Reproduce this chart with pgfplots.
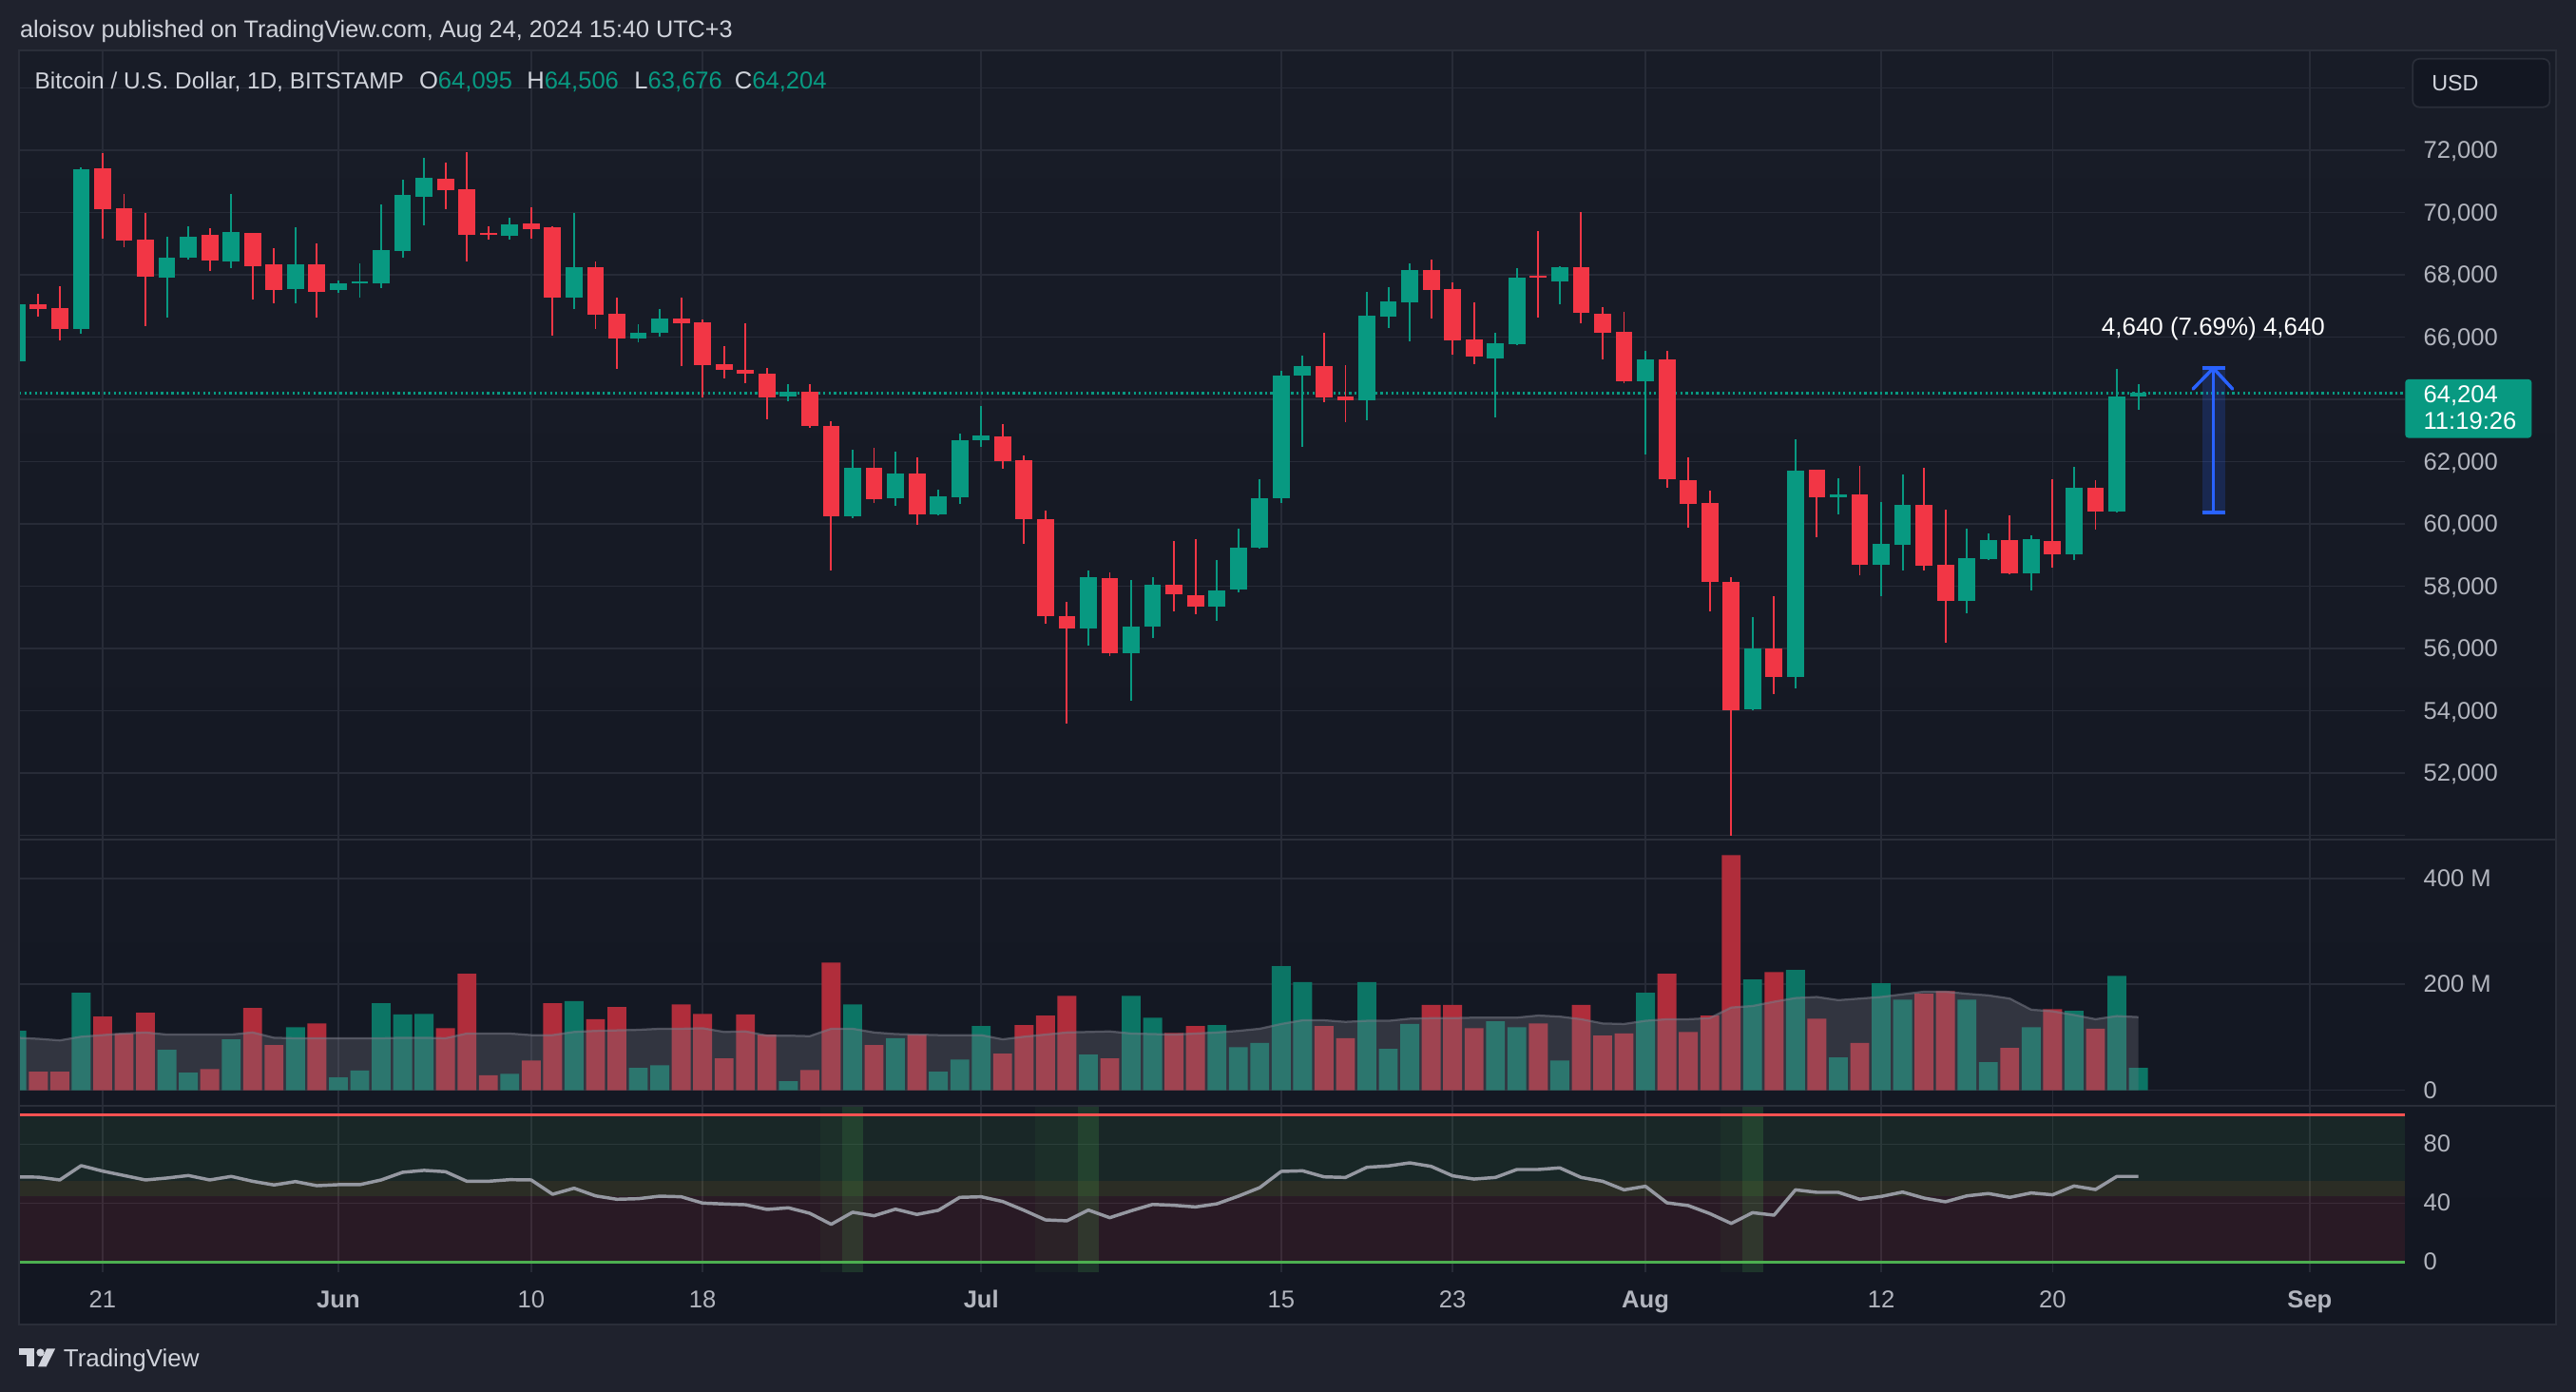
\documentclass[border=0pt]{standalone}
\usepackage{fontspec}
\setmainfont{Liberation Sans}
\usepackage{pgfplots}
\pgfplotsset{compat=1.18}
\usepackage{pgfplotstable}

\definecolor{outerbg}{HTML}{1F222D}
\definecolor{bgtop}{HTML}{181C27}
\definecolor{bgbot}{HTML}{131722}
\definecolor{gridc}{HTML}{272B37}
\definecolor{framec}{HTML}{2A2E39}
\definecolor{labelc}{HTML}{B2B5BE}
\definecolor{textc}{HTML}{D1D4DC}
\definecolor{cup}{HTML}{089981}
\definecolor{cdown}{HTML}{F23645}
\definecolor{vup}{HTML}{0C7565}
\definecolor{vdown}{HTML}{B02D3B}
\definecolor{magray}{RGB}{120,122,134}
\definecolor{rsigray}{HTML}{9598A1}
\definecolor{tvblue}{HTML}{2962FF}
\definecolor{rsigreen}{HTML}{4CAF50}
\definecolor{rsired}{HTML}{FF5252}
\definecolor{rsiyellow}{HTML}{FFEB3B}

\newcommand{\tvfont}{\fontsize{14.8}{17}\selectfont}

% day index: Jun 1 = 0
\pgfplotstableread{
d o h l c v
-15 65220 67100 65200 67050 112
-12 66250 71460 66100 71380 184
-8 67900 69240 66640 68550 76
-7 68540 69550 68500 69240 33
-5 68440 70600 68230 69370 96
-2 67560 69530 67100 68340 119
0 67510 67820 67410 67720 24
1 67735 68360 67280 67785 37
2 67720 70250 67590 68800 164
3 68770 71050 68570 70560 143
4 70510 71760 69580 71120 144
8 69260 69830 69140 69610 31
11 67280 69990 66920 68240 168
14 65970 66410 65840 66150 42
15 66150 66900 66020 66610 47
21 64110 64500 63930 64250 17
24 60240 62380 60200 61800 162
26 60820 62330 60580 61620 98
28 60300 61090 60280 60890 35
29 60870 62920 60640 62690 58
30 62690 63800 62490 62850 121
35 56640 58520 56090 58280 67
37 55840 58210 54320 56720 178
38 56710 58310 56330 58060 137
41 57340 58860 56890 57880 123
42 57910 59840 57820 59250 81
43 59250 61450 59200 60840 89
44 60820 64930 60690 64760 234
45 64760 65420 62470 65070 204
48 63960 67460 63320 66690 204
49 66670 67610 66300 67150 78
50 67130 68370 65860 68160 125
54 65330 66130 63440 65810 130
55 65790 68210 65730 67920 119
57 67800 68280 67070 68240 56
61 64600 65560 62250 65280 184
66 54040 57020 54010 56000 209
68 55090 62720 54710 61720 227
70 60860 61480 60300 60950 62
72 58700 60710 57690 59370 202
73 59340 61590 58500 60630 171
76 57540 59860 57150 58910 171
77 58880 59700 58850 59480 53
79 58420 59650 57880 59520 119
81 59030 61840 58830 61170 150
83 60400 64970 60370 64090 216
84 64095 64506 63676 64204 42
}\updata

\pgfplotstableread{
d o h l c v
-14 67050 67380 66670 66920 35
-13 66935 67640 65900 66250 35
-11 71410 71920 69170 70120 139
-10 70140 70610 68880 69090 107
-9 69120 69990 66360 67930 146
-6 69290 69500 68140 68470 40
-4 69340 69360 67200 68290 155
-3 68340 68860 67100 67520 85
-1 68340 69010 66640 67460 126
5 71090 71610 70100 70730 117
6 70740 71940 68440 69300 220
7 69350 69550 69140 69300 28
9 69650 70170 69160 69480 56
10 69520 69550 66040 67280 164
12 68240 68420 66250 66710 134
13 66750 67280 64970 65970 157
16 66610 67260 65070 66460 162
17 66480 66560 64060 65120 144
18 65140 65710 64680 64940 60
19 64960 66450 64520 64840 143
20 64830 65020 63370 64080 105
22 64240 64500 63100 63140 38
23 63140 63290 58500 60240 241
25 61800 62460 60680 60790 85
27 61620 62150 59960 60300 105
31 62820 63210 61770 62030 69
32 62050 62210 59350 60150 123
33 60170 60430 56790 57030 141
34 57050 57510 53590 56640 178
36 58280 58440 55760 55840 60
39 58060 59470 57200 57740 108
40 57720 59520 57100 57340 121
46 65070 66130 63900 64080 121
47 64090 65100 63260 63980 98
51 68160 68490 66590 67520 161
52 67540 67750 65430 65910 161
53 65920 67110 65120 65370 117
56 67960 69400 66640 67900 126
58 68240 70010 66460 66770 161
59 66760 66970 65300 66150 103
60 66170 66800 64520 64600 107
62 65280 65560 61180 61430 220
63 61410 62150 59890 60660 110
64 60680 61070 57200 58130 141
65 58140 58310 49980 54010 444
67 56000 57690 54530 55090 223
69 61750 61760 59580 60860 135
71 60950 61870 58360 58700 89
74 60630 61800 58500 58670 182
75 58700 60450 56180 57540 187
78 59480 60280 58400 58420 80
80 59470 61450 58590 59030 153
82 61170 61410 59810 60400 116
}\downdata

\pgfplotstableread{
d ma
-15 99
-14 97
-13 94
-12 101
-11 104
-10 107
-9 109
-8 105
-7 105
-6 105
-5 105
-4 109
-3 99
-2 98
-1 98
0 98
1 98
2 98
3 99
4 99
5 98
6 107
7 107
8 107
9 104
10 104
11 110
12 112
13 113
14 114
15 116
16 116
17 117
18 110
19 111
20 103
21 103
22 102
23 116
24 116
25 109
26 106
27 105
28 104
29 104
30 104
31 96
32 101
33 105
34 109
35 110
36 111
37 107
38 106
39 105
40 107
41 109
42 112
43 116
44 125
45 132
46 132
47 129
48 131
49 131
50 135
51 136
52 136
53 137
54 137
55 137
56 141
57 139
58 134
59 126
60 125
61 131
62 134
63 134
64 136
65 156
66 159
67 167
68 174
69 176
70 170
71 173
72 176
73 181
74 186
75 186
76 182
77 179
78 173
79 152
80 149
81 142
82 134
83 140
84 138
}\madata

\pgfplotstableread{
d r
-15 57.8
-14 57.6
-13 55.7
-12 65.4
-11 61.7
-10 58.7
-9 55.7
-8 57.0
-7 58.7
-6 55.7
-5 58.1
-4 54.8
-3 52.3
-2 54.6
-1 51.8
0 52.5
1 52.5
2 55.7
3 60.9
4 62.2
5 61.3
6 54.8
7 54.8
8 55.9
9 55.7
10 46.0
11 50.1
12 44.9
13 42.6
14 43.0
15 44.7
16 44.3
17 40.0
18 39.4
19 38.9
20 35.7
21 36.8
22 33.1
23 25.6
24 33.8
25 31.4
26 35.9
27 32.3
28 35.1
29 43.9
30 44.3
31 41.1
32 35.1
33 28.6
34 28.0
35 35.3
36 30.1
37 34.8
38 39.1
39 38.5
40 37.4
41 39.5
42 44.7
43 50.5
44 61.5
45 61.9
46 57.8
47 57.4
48 64.3
49 65.2
50 67.3
51 64.9
52 58.5
53 56.3
54 57.4
55 62.8
56 62.8
57 63.9
58 57.4
59 54.8
60 49.0
61 51.4
62 40.2
63 38.3
64 32.9
65 26.2
66 33.5
67 31.8
68 49.0
69 47.3
70 47.3
71 42.6
72 44.5
73 47.5
74 43.4
75 40.9
76 44.9
77 46.5
78 43.9
79 46.9
80 45.6
81 51.6
82 49.2
83 58.1
84 58.1
}\rsidata

\pgfplotsset{
  tvbase/.style={
    scale only axis, width=1452.4pt,
    xmin=-14.9, xmax=96.45,
    axis line style={draw=none},
    major tick length=0pt, tick style={draw=none},
    scaled x ticks=false, scaled y ticks=false,
    xtick={-11,0,9,17,30,44,52,61,72,80,92},
    xticklabels={},
    xmajorgrids, ymajorgrids,
    grid style={draw=gridc, line width=0.9pt},
    yticklabel pos=right,
    yticklabel style={anchor=base west, xshift=11pt, yshift=-5pt, inner sep=0pt, font=\tvfont, text=labelc},
    clip=true,
  },
  nolabelx/.style={xticklabel style={text opacity=0, opacity=0}},
}

\begin{document}
\begin{tikzpicture}
\useasboundingbox (0pt,0pt) rectangle (1568pt,847pt);
\fill[outerbg] (0pt,0pt) rectangle (1568pt,847pt);
\shade[top color=bgtop, bottom color=bgbot] (11.6pt,41pt) rectangle (1556pt,816.3pt);

% ---------------- price pane ----------------
\begin{axis}[tvbase, nolabelx, at={(11.6pt,336pt)}, anchor=south west, height=480pt,
  ymin=49863, ymax=75193,
  ytick={50000,52000,54000,56000,58000,60000,62000,64000,66000,68000,70000,72000,74000},
  yticklabels={{},{52,000},{54,000},{56,000},{58,000},{60,000},{62,000},{},{66,000},{68,000},{70,000},{72,000},{}},
]
\addplot[cup, line width=1.2pt, dash pattern=on 1.3pt off 1.9pt, forget plot] coordinates {(-14.9,64204) (96.45,64204)};
% wicks
\addplot[draw=none, mark=none, forget plot,
  error bars/.cd, y dir=both, y explicit, error mark=none,
  error bar style={draw=cup, line width=1.1pt, solid}]
  table[x=d, y expr={(\thisrow{h}+\thisrow{l})/2}, y error expr={(\thisrow{h}-\thisrow{l})/2}] {\updata};
\addplot[draw=none, mark=none, forget plot,
  error bars/.cd, y dir=both, y explicit, error mark=none,
  error bar style={draw=cdown, line width=1.1pt, solid}]
  table[x=d, y expr={(\thisrow{h}+\thisrow{l})/2}, y error expr={(\thisrow{h}-\thisrow{l})/2}] {\downdata};
% bodies
\addplot[draw=none, mark=none, forget plot,
  error bars/.cd, y dir=both, y explicit, error mark=none,
  error bar style={draw=cup, line width=10.3pt, solid}]
  table[x=d, y expr={(\thisrow{o}+\thisrow{c})/2}, y error expr={abs(\thisrow{c}-\thisrow{o})/2}] {\updata};
\addplot[draw=none, mark=none, forget plot,
  error bars/.cd, y dir=both, y explicit, error mark=none,
  error bar style={draw=cdown, line width=10.3pt, solid}]
  table[x=d, y expr={(\thisrow{o}+\thisrow{c})/2}, y error expr={abs(\thisrow{o}-\thisrow{c})/2}] {\downdata};
% measure tool
\fill[tvblue, fill opacity=0.2] (axis cs:86.97,60366) rectangle (axis cs:88.04,65006);
\draw[tvblue, line width=2pt] (axis cs:87.5,60366) -- (axis cs:87.5,65006);
\draw[tvblue, line width=2pt] (axis cs:86.97,60366) -- (axis cs:88.04,60366);
\draw[tvblue, line width=2pt] (axis cs:86.97,65006) -- (axis cs:88.04,65006);
\draw[tvblue, line width=2pt, line cap=round, line join=round] (axis cs:86.55,64337) -- (axis cs:87.5,65006) -- (axis cs:88.4,64337);
\node[text=white, font=\fontsize{15}{17}\selectfont, inner sep=0pt] at (axis cs:87.5,66274) {4,640 (7.69\%) 4,640};
\end{axis}

% ---------------- volume pane ----------------
\begin{axis}[tvbase, nolabelx, at={(11.6pt,174pt)}, anchor=south west, height=162pt,
  ymin=-29.8, ymax=472.9, ytick={0,200,400}, yticklabels={0,200 M,400 M}]
\addplot[ybar, bar width=11.5pt, bar shift=0pt, fill=vup, draw=none] table[x=d,y=v] {\updata};
\addplot[ybar, bar width=11.5pt, bar shift=0pt, fill=vdown, draw=none] table[x=d,y=v] {\downdata};
\addplot[draw=none, fill=magray, fill opacity=0.3] table[x=d,y=ma] {\madata} \closedcycle;
\addplot[magray, line width=1.3pt, opacity=0.55] table[x=d,y=ma] {\madata};
\end{axis}

% ---------------- RSI pane ----------------
\begin{axis}[tvbase, at={(11.6pt,73pt)}, anchor=south west, height=101pt,
  ymin=-6.7, ymax=105.9, ytick={0,40,80}, yticklabels={0,40,80},
  xticklabels={21,\textbf{Jun},10,18,\textbf{Jul},15,23,\textbf{Aug},12,20,\textbf{Sep}},
  xticklabel style={anchor=base, yshift=-22pt, inner sep=0pt, font=\tvfont, text=labelc}]
\fill[rsigreen, fill opacity=0.1] (axis cs:-14.9,55) rectangle (axis cs:96.45,100);
\fill[rsiyellow, fill opacity=0.1] (axis cs:-14.9,45) rectangle (axis cs:96.45,55);
\fill[cdown, fill opacity=0.1] (axis cs:-14.9,0) rectangle (axis cs:96.45,45);
\fill[rsigreen, fill opacity=0.06] (axis cs:22.5,-6.7) rectangle (axis cs:23.5,105.9);
\fill[rsigreen, fill opacity=0.2] (axis cs:23.5,-6.7) rectangle (axis cs:24.5,105.9);
\fill[rsigreen, fill opacity=0.06] (axis cs:32.5,-6.7) rectangle (axis cs:34.5,105.9);
\fill[rsigreen, fill opacity=0.2] (axis cs:34.5,-6.7) rectangle (axis cs:35.5,105.9);
\fill[rsigreen, fill opacity=0.06] (axis cs:64.5,-6.7) rectangle (axis cs:65.5,105.9);
\fill[rsigreen, fill opacity=0.2] (axis cs:65.5,-6.7) rectangle (axis cs:66.5,105.9);
\addplot[rsired, line width=1.5pt, forget plot] coordinates {(-14.9,100) (96.45,100)};
\addplot[rsigreen, line width=1.5pt, forget plot] coordinates {(-14.9,0) (96.45,0)};
\addplot[rsigray, line width=2pt, line join=round] table[x=d,y=r] {\rsidata};
\end{axis}

% separators and frame
\draw[framec, line width=1.5pt] (11.6pt,336pt) -- (1556pt,336pt);
\draw[framec, line width=1.5pt] (11.6pt,174pt) -- (1556pt,174pt);
\draw[framec, line width=1pt] (11.6pt,41pt) rectangle (1556pt,816.3pt);

% header
\node[anchor=base west, inner sep=0pt, text=textc, font=\fontsize{14.6}{17}\selectfont] at (12pt,824pt)
  {aloisov published on TradingView.com, Aug 24, 2024 15:40 UTC+3};
% legend
\node[anchor=base west, inner sep=0pt, text=textc, font=\fontsize{14.1}{16}\selectfont] at (21pt,793pt)
  {Bitcoin / U.S. Dollar, 1D, BITSTAMP};
\node[anchor=base west, inner sep=0pt, font=\fontsize{14.8}{16}\selectfont] at (255pt,793pt)
  {\textcolor{textc}{O}\textcolor{cup}{64,095}};
\node[anchor=base west, inner sep=0pt, font=\fontsize{14.8}{16}\selectfont] at (320.5pt,793pt)
  {\textcolor{textc}{H}\textcolor{cup}{64,506}};
\node[anchor=base west, inner sep=0pt, font=\fontsize{14.8}{16}\selectfont] at (386pt,793pt)
  {\textcolor{textc}{L}\textcolor{cup}{63,676}};
\node[anchor=base west, inner sep=0pt, font=\fontsize{14.8}{16}\selectfont] at (447pt,793pt)
  {\textcolor{textc}{C}\textcolor{cup}{64,204}};

% USD button
\draw[framec, line width=1pt, fill=bgbot, rounded corners=4pt] (1468.6pt,781.8pt) rectangle (1552pt,811.2pt);
\node[anchor=base west, inner sep=0pt, text=textc, font=\fontsize{13.5}{16}\selectfont] at (1480pt,791.5pt) {USD};

% last price label
\fill[cup, rounded corners=2pt] (1464pt,580.5pt) rectangle (1541pt,616.2pt);
\node[anchor=base west, inner sep=0pt, text=white, font=\tvfont] at (1475pt,602pt) {64,204};
\node[anchor=base west, inner sep=0pt, text=white, font=\tvfont] at (1475pt,586pt) {11:19:26};

% TradingView logo
\fill[textc] (11.6pt,26.3pt) rectangle (20.8pt,22.4pt);
\fill[textc] (16pt,26.3pt) rectangle (20.8pt,15.4pt);
\fill[textc] (24.6pt,23.9pt) circle (2.4pt);
\fill[textc] (28.4pt,26.3pt) -- (33.6pt,26.3pt) -- (28.2pt,15.4pt) -- (23.2pt,15.4pt) -- cycle;
\node[anchor=base west, inner sep=0pt, text=textc, font=\fontsize{15}{17}\selectfont] at (38.5pt,15.2pt) {TradingView};
\end{tikzpicture}
\end{document}
